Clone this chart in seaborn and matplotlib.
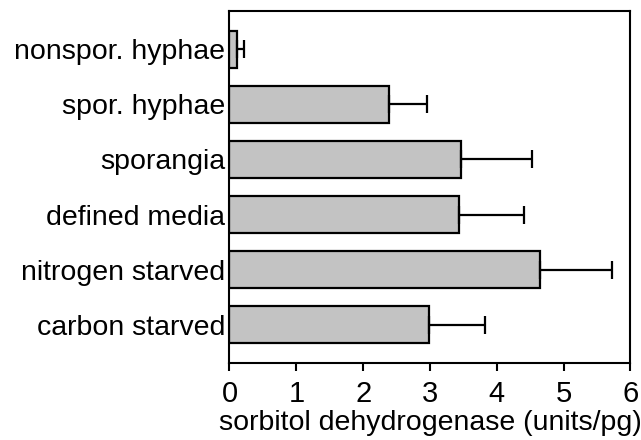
import pandas as pd
import numpy as np
import matplotlib
matplotlib.use("Agg")
import matplotlib.pyplot as plt
import seaborn as sns

# values
conditions = ["nonspor. hyphae", "spor. hyphae", "sporangia",
              "defined media", "nitrogen starved", "carbon starved"]
activity = [0.11, 2.38, 3.46, 3.43, 4.65, 2.99]
activity_err = [0.11, 0.58, 1.06, 0.97, 1.07, 0.83]

df = pd.DataFrame({"condition": conditions, "activity": activity})

sns.set_style("white")
plt.rcParams['font.family'] = ['Liberation Sans', 'DejaVu Sans']
plt.rcParams['text.color'] = 'black'
plt.rcParams['axes.labelcolor'] = 'black'
plt.rcParams['xtick.color'] = 'black'
plt.rcParams['ytick.color'] = 'black'

fig = plt.figure(figsize=(6.41, 4.40), dpi=100)
ax = fig.add_axes([0.358, 0.1743, 0.6256, 0.8014])

sns.barplot(data=df, x="activity", y="condition", orient="h",
            color="#c3c3c3", saturation=1, width=0.68, errorbar=None,
            edgecolor="black", linewidth=1.6, ax=ax)

# one-sided error bars (right side only)
ax.errorbar(df["activity"], np.arange(len(df)),
            xerr=[np.zeros(len(df)), activity_err],
            fmt="none", ecolor="black", elinewidth=1.6,
            capsize=6.4, capthick=1.6, zorder=1)

ax.set_xlim(0, 6)
ax.set_ylim(5.7, -0.7)
ax.set_xticks(range(7))
ax.set_xlabel("sorbitol dehydrogenase (units/pg)", fontsize=20.5, labelpad=1.5)
ax.set_ylabel("")
ax.tick_params(axis="x", direction="out", length=6, width=1.5,
               labelsize=21, pad=6, bottom=True)
ax.tick_params(axis="y", length=0, labelsize=20.5, pad=3)

for side in ["left", "right", "top", "bottom"]:
    ax.spines[side].set_visible(True)
    ax.spines[side].set_color("black")
    ax.spines[side].set_linewidth(1.5)

fig.savefig("out.png", dpi=100)
